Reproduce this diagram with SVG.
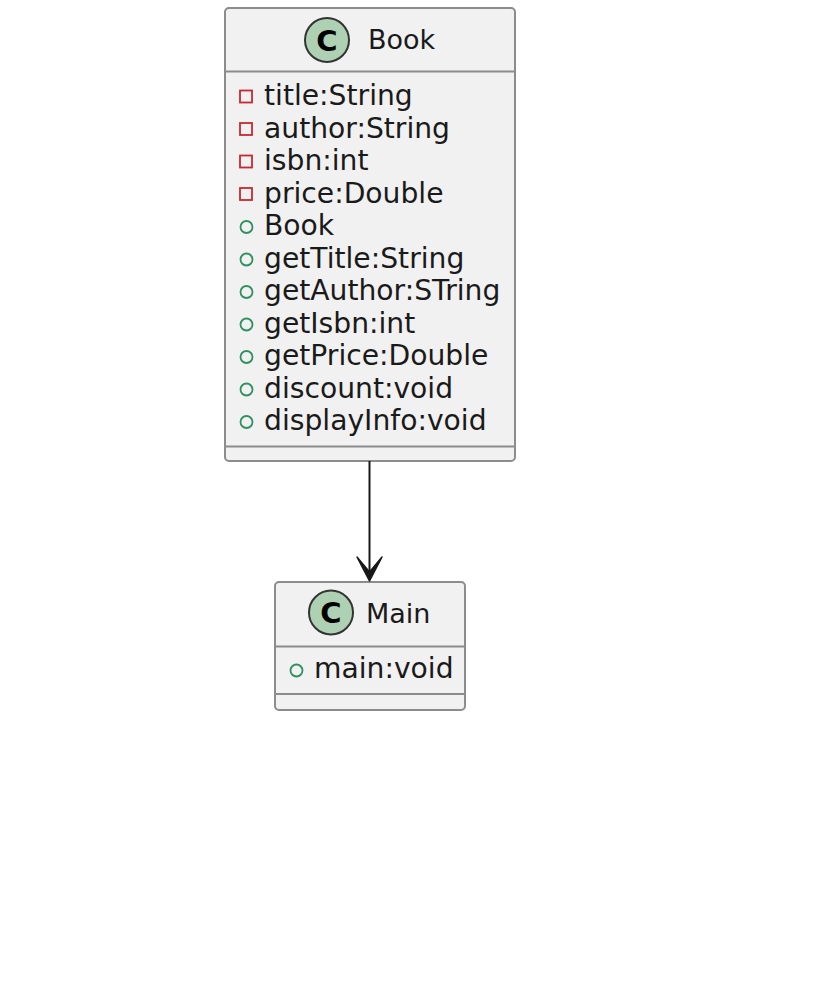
<svg xmlns="http://www.w3.org/2000/svg" width="831" height="981" viewBox="0 0 831 981">
<style>
.box{fill:#F1F1F1;stroke:#8C8C8C;stroke-width:2}
.div{stroke:#8C8C8C;stroke-width:2}
.t{font-family:"DejaVu Sans",sans-serif;font-size:28.2px;fill:#1A1A1A}
.h{font-family:"DejaVu Sans",sans-serif;font-size:27px;fill:#1A1A1A}
.ci{fill:#ADD1B2;stroke:#333333;stroke-width:2}
.cl{font-family:"DejaVu Sans",sans-serif;font-size:29px;font-weight:bold;fill:#000;text-anchor:middle}
.pri{fill:none;stroke:#C82930;stroke-width:1.8}
.pub{fill:none;stroke:#2F9060;stroke-width:1.8}
.edge{stroke:#181818;stroke-width:2;fill:none}
</style>
<rect width="831" height="981" fill="#FFFFFF"/>
<g id="Book">
<rect class="box" x="225" y="8" width="290" height="453" rx="4"/>
<line class="div" x1="225" y1="71.5" x2="515" y2="71.5"/>
<line class="div" x1="225" y1="446.5" x2="515" y2="446.5"/>
<circle class="ci" cx="327" cy="40" r="22"/>
<text class="cl" x="327" y="50.5">C</text>
<text class="h" x="368" y="49">Book</text>
<rect class="pri" x="240" y="90.5" width="12" height="12"/>
<text class="t" x="264" y="105">title:String</text>
<rect class="pri" x="240" y="123" width="12" height="12"/>
<text class="t" x="264" y="137.5">author:String</text>
<rect class="pri" x="240" y="155.5" width="12" height="12"/>
<text class="t" x="264" y="170">isbn:int</text>
<rect class="pri" x="240" y="188" width="12" height="12"/>
<text class="t" x="264" y="202.5">price:Double</text>
<circle class="pub" cx="246.5" cy="227" r="6"/>
<text class="t" x="264" y="235">Book</text>
<circle class="pub" cx="246.5" cy="259.5" r="6"/>
<text class="t" x="264" y="267.5">getTitle:String</text>
<circle class="pub" cx="246.5" cy="292" r="6"/>
<text class="t" x="264" y="300">getAuthor:STring</text>
<circle class="pub" cx="246.5" cy="324.5" r="6"/>
<text class="t" x="264" y="332.5">getIsbn:int</text>
<circle class="pub" cx="246.5" cy="357" r="6"/>
<text class="t" x="264" y="365">getPrice:Double</text>
<circle class="pub" cx="246.5" cy="389.5" r="6"/>
<text class="t" x="264" y="397.5">discount:void</text>
<circle class="pub" cx="246.5" cy="422" r="6"/>
<text class="t" x="264" y="430">displayInfo:void</text>
</g>
<g id="Main">
<rect class="box" x="275" y="582" width="190" height="128" rx="4"/>
<line class="div" x1="275" y1="646.5" x2="465" y2="646.5"/>
<line class="div" x1="275" y1="694" x2="465" y2="694"/>
<circle class="ci" cx="331" cy="612.5" r="22"/>
<text class="cl" x="331" y="623">C</text>
<text class="h" x="366" y="622.5">Main</text>
<circle class="pub" cx="296.5" cy="670.5" r="6"/>
<text class="t" x="314" y="678">main:void</text>
</g>
<g id="connectors">
<line class="edge" x1="369.5" y1="461" x2="369.5" y2="578"/>
<path d="M357,557 L369.5,581 L382,557 L369.5,572 Z" fill="#181818" stroke="#181818" stroke-width="1.5" stroke-linejoin="round"/>
</g>
</svg>
